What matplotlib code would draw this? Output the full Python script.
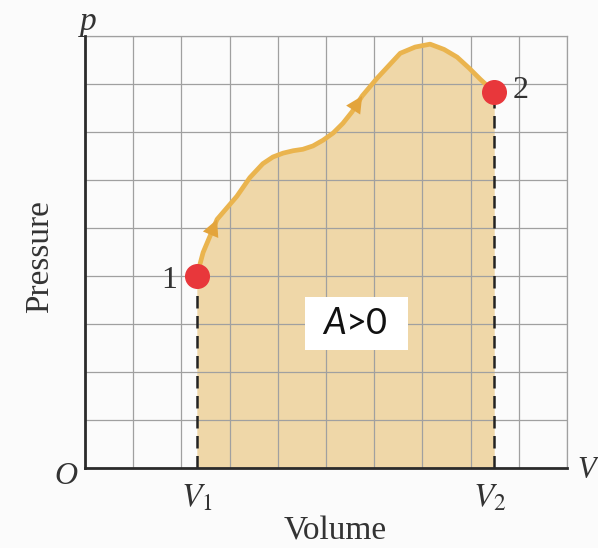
import matplotlib.pyplot as plt
from matplotlib.patches import Rectangle

plt.rcParams['font.family'] = ['Liberation Serif', 'DejaVu Serif']
plt.rcParams['mathtext.fontset'] = 'stix'

# Proceso 1 -> 2 en el diagrama p-V (unidades de cuadrícula)
volumen = [2.32, 2.45, 2.74, 3.15, 3.42, 3.69, 3.90, 4.11, 4.32, 4.52, 4.73,
           4.94, 5.15, 5.35, 5.54, 5.75, 6.06, 6.54, 6.85, 7.16, 7.45, 7.72,
           7.97, 8.20, 8.49]
presion = [4.00, 4.49, 5.18, 5.66, 6.05, 6.34, 6.48, 6.56, 6.61, 6.64, 6.71,
           6.83, 6.98, 7.18, 7.42, 7.75, 8.12, 8.64, 8.77, 8.83, 8.72, 8.56,
           8.33, 8.10, 7.83]
V1, V2 = volumen[0], volumen[-1]
p1, p2 = presion[0], presion[-1]

fondo = '#fbfbfb'
fig = plt.figure(figsize=(5.98, 5.48), dpi=100, facecolor=fondo)
ax = fig.add_axes([85 / 598, 80 / 548, 482 / 598, 432 / 548], facecolor=fondo)
ax.set_xlim(0, 10)
ax.set_ylim(0, 9)

# Cuadrícula
ax.set_xticks(range(0, 11))
ax.set_yticks(range(0, 10))
ax.tick_params(length=0, labelbottom=False, labelleft=False)
ax.grid(True, color='#a0a0a0', linewidth=0.9)
ax.set_axisbelow(False)
for lado in ['top', 'right']:
    ax.spines[lado].set_color('#a0a0a0')
    ax.spines[lado].set_linewidth(0.9)
for lado in ['left', 'bottom']:
    ax.spines[lado].set_color('#2b2b2b')
    ax.spines[lado].set_linewidth(2)
    ax.spines[lado].set_zorder(4)

# Área bajo la curva (trabajo)
ax.fill_between(volumen, presion, 0, color='#efd7a8', linewidth=0, zorder=1)

# Curva del proceso
ax.plot(volumen, presion, color='#eab44e', linewidth=3.4,
        solid_capstyle='round', solid_joinstyle='round', zorder=5)

# Flechas de sentido sobre la curva
for i in [2, 15]:
    ax.annotate('', xy=(volumen[i], presion[i]),
                xytext=(volumen[i - 1], presion[i - 1]),
                arrowprops=dict(arrowstyle='-|>', color='#e3a43c', lw=0,
                                mutation_scale=30, shrinkA=0, shrinkB=0),
                zorder=6)

# Líneas verticales discontinuas
ax.plot([V1, V1], [0, p1], color='#222222', linewidth=1.8,
        linestyle=(0, (5, 3)), zorder=4)
ax.plot([V2, V2], [0, p2], color='#222222', linewidth=1.8,
        linestyle=(0, (5, 3)), zorder=4)

# Estados 1 y 2
ax.plot([V1, V2], [p1, p2], 'o', color='#e8373b', markersize=17, zorder=7)
ax.annotate('1', xy=(V1, p1), xytext=(-20, -3), textcoords='offset points',
            ha='center', va='center', fontsize=23, color='#333333')
ax.annotate('2', xy=(V2, p2), xytext=(19, 1), textcoords='offset points',
            ha='center', va='center', fontsize=23, color='#333333')

# Rótulos de los ejes
ax.annotate(r'$V_1$', xy=(V1, 0), xytext=(0, -22), textcoords='offset points',
            ha='center', va='center', fontsize=24, color='#333333')
ax.annotate(r'$V_2$', xy=(V2, 0), xytext=(-3, -22), textcoords='offset points',
            ha='center', va='center', fontsize=24, color='#333333')
fig.text(66 / 598, 1 - 476 / 548, 'O', fontstyle='italic', fontsize=23,
         ha='center', va='center', color='#333333')
fig.text(88 / 598, 1 - 22 / 548, 'p', fontstyle='italic', fontsize=24,
         ha='center', va='center', color='#333333')
fig.text(577 / 598, 1 - 470 / 548, 'V', fontstyle='italic', fontsize=22,
         ha='left', va='center', color='#333333')
fig.text(335 / 598, 1 - 531 / 548, 'Volume', fontsize=24,
         ha='center', va='center', color='#333333')
fig.text(40 / 598, 1 - 257 / 548, 'Pressure', fontsize=24, rotation=90,
         ha='center', va='center', color='#333333')

# Recuadro con el signo del trabajo
ax.add_patch(Rectangle((4.56, 2.46), 2.14, 1.1, facecolor='white',
                       edgecolor='none', zorder=8))
tA = ax.text(4.95, 3.02, 'A', family='Lato', fontstyle='italic', fontsize=26,
             ha='left', va='center', color='#111111', zorder=9)
ax.annotate('>0', xy=(1, 0), xycoords=tA, xytext=(0, 0),
            textcoords='offset points', family='Lato', fontsize=26,
            ha='left', va='bottom', color='#111111', zorder=9)

fig.savefig('out.png', dpi=100, facecolor=fondo)
